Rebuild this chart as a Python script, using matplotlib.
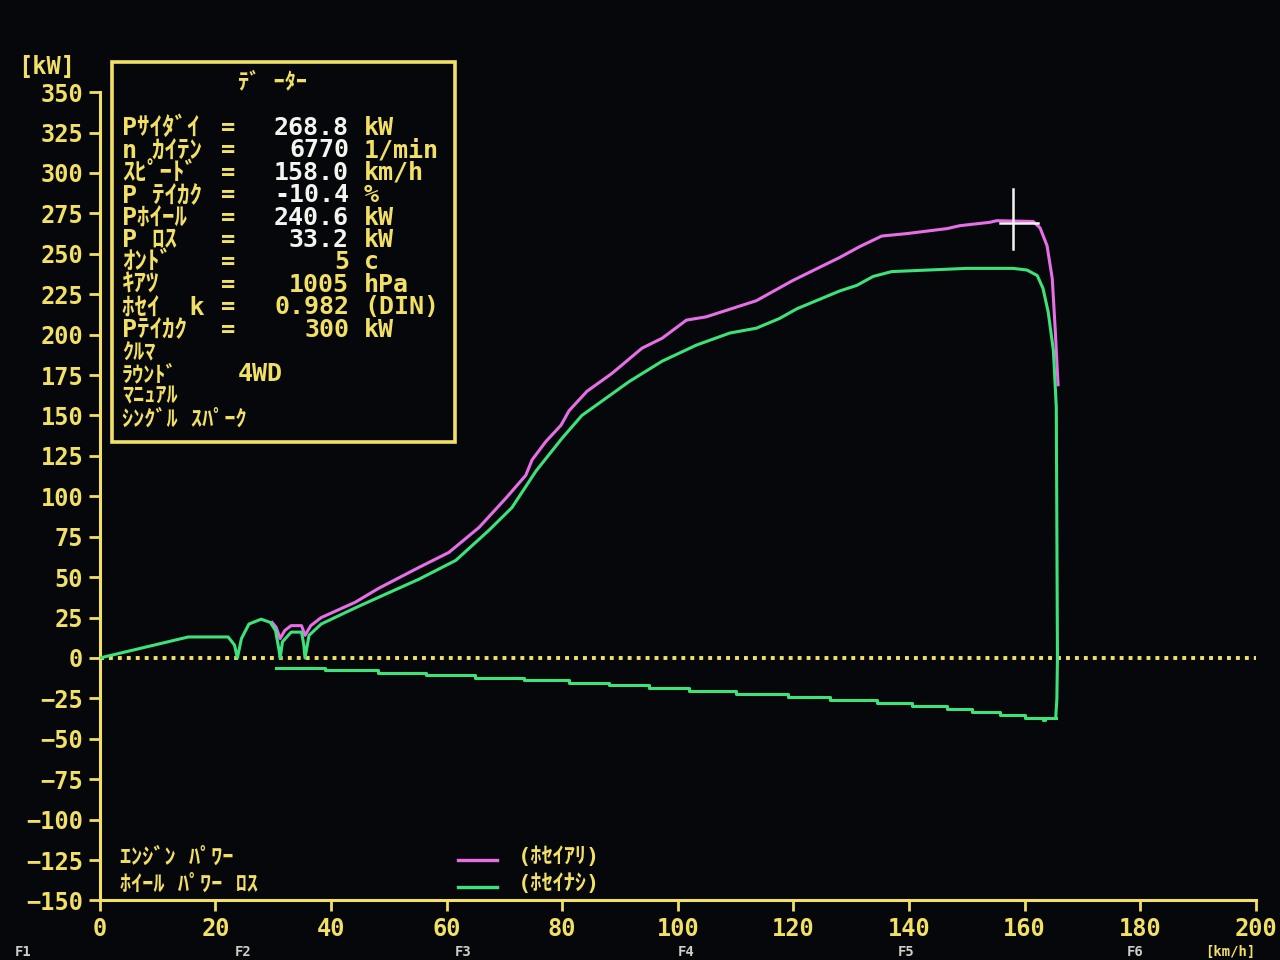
import matplotlib
matplotlib.use("Agg")
import matplotlib.pyplot as plt

# dyno screen readings (km/h, kW)
speed_eng = [29.8, 30.5, 31.2, 32.0, 33.1, 34.9, 35.5, 36.5, 38.3, 44.2, 48.2,
             55.2, 60.4, 65.6, 70.3, 73.7, 74.8, 77.2, 79.8, 81.2, 84.3, 88.6,
             93.8, 97.3, 101.5, 104.9, 113.6, 119.9, 128.0, 131.5, 135.3, 139.6,
             146.6, 148.8, 154.0, 155.2, 161.5, 162.7, 163.9, 164.8, 165.3, 165.8]
power_eng = [22, 19, 12, 17, 20, 20, 14, 20, 25, 34.5, 43,
             56, 65.3, 80.7, 99, 113, 122.6, 134, 144, 153, 165, 176,
             191.6, 197.8, 209, 211, 221, 233.5, 247.7, 254.5, 261, 262.5,
             265.6, 267.4, 269.5, 270.5, 270, 266, 255, 234.7, 204, 169]

speed_raw = [0, 15.3, 22.2, 23.3, 23.8, 24.5, 25.8, 27.9, 29.5, 30.4, 31.0, 31.2,
             31.6, 33.1, 34.9, 35.3, 35.5, 36.2, 38.3, 44.2, 49.4, 55.2, 61.6,
             67.3, 71.3, 75.5, 80.0, 83.4, 85.2, 91.6, 97.3, 103.2, 109.0, 113.6,
             117.6, 120.6, 128.0, 131.0, 133.8, 137.0, 150.0, 158.0, 160.4, 162.2,
             163.2, 164.1, 165.0, 165.5, 165.7, 165.6, 165.4]
power_raw = [0, 13, 13, 8, 0, 12, 21, 24, 22, 17, 5, 0,
             10, 16, 16, 8, 0, 14, 21, 31, 39.4, 48.7, 60.4,
             78.9, 93, 115.8, 136, 150, 154.6, 171, 183.6, 193.5, 201, 204,
             210, 216, 227, 230.5, 236, 239, 241, 241, 240, 236.6,
             228.6, 214, 190, 155, 0, -25, -37]

speed_loss = [30.5, 39.0, 48.2, 56.4, 65.0, 73.4, 81.2, 88.1, 95.1, 102.0, 110.1,
              119.0, 126.3, 134.4, 140.5, 146.6, 150.9, 155.8, 160.1, 163.2, 163.6, 165.4]
power_loss = [-6.0, -7.6, -9.5, -10.7, -12.2, -13.8, -15.5, -17.0, -18.8, -20.5, -22.2,
              -24.0, -25.9, -27.8, -29.6, -31.5, -33.4, -35.2, -37.1, -38.5, -37.1, -37.1]

yticks = list(range(-150, 351, 25))
xticks = list(range(0, 201, 20))
gear_labels = ["F1", "F2", "F3", "F4", "F5", "F6"]

readout_labels = ["Pｻｲﾀﾞｲ", "n ｶｲﾃﾝ", "ｽﾋﾟｰﾄﾞ", "P ﾃｲｶｸ", "Pﾎｲｰﾙ", "P ﾛｽ",
                  "ｵﾝﾄﾞ", "ｷｱﾂ", "ﾎｾｲ  k", "Pﾃｲｶｸ"]
readout_values = ["268.8", "6770", "158.0", "-10.4", "240.6", "33.2",
                  "5", "1005", "0.982", "300"]
readout_units = ["kW", "1/min", "km/h", "%", "kW", "kW", "c", "hPa", "(DIN)", "kW"]
extra_lines = ["ｸﾙﾏ", "ﾗｳﾝﾄﾞ", "ﾏﾆｭｱﾙ", "ｼﾝｸﾞﾙ ｽﾊﾟｰｸ"]
cursor_speed = 158.0
cursor_power = 268.8

BG = "#05070b"
YEL = "#f2e066"
MAG = "#e66fe6"
GRN = "#3de27a"
WHT = "#f4f4f0"
FAM = ["DejaVu Sans Mono", "Noto Sans CJK JP"]

plt.rcParams["font.family"] = FAM
plt.rcParams["font.weight"] = "bold"

fig = plt.figure(figsize=(12.8, 9.6), dpi=100, facecolor=BG)
ax = fig.add_axes([0.078, 0.062, 0.903, 0.842], facecolor=BG)


def fx(x, y):
    return x / 1280, 1 - y / 960


ax.axhline(0, color=YEL, lw=2.8, linestyle=(0, (1, 1.3)), zorder=1)
ax.plot(speed_eng, power_eng, color=MAG, lw=2.2, zorder=2)
ax.plot(speed_raw, power_raw, color=GRN, lw=2.2, zorder=3)
ax.plot(speed_loss, power_loss, color=GRN, lw=2.2, drawstyle="steps-post", zorder=3)

# cursor cross
ax.plot([cursor_speed, cursor_speed], [cursor_power - 16, cursor_power + 21],
        color=WHT, lw=1.8, zorder=4)
ax.plot([cursor_speed - 2.3, cursor_speed + 4.3], [cursor_power, cursor_power],
        color=WHT, lw=1.8, zorder=4)

ax.set_xlim(0, 200)
ax.set_ylim(-150, 350)
ax.set_xticks(xticks)
ax.set_yticks(yticks)
ax.tick_params(colors=YEL, labelcolor=YEL, length=8, width=2, labelsize=17, pad=4)
for lab in ax.get_xticklabels() + ax.get_yticklabels():
    lab.set_fontweight("bold")
for s in ["top", "right"]:
    ax.spines[s].set_visible(False)
for s in ["left", "bottom"]:
    ax.spines[s].set_color(YEL)
    ax.spines[s].set_linewidth(2.2)

# units and gear markers along the bottom edge
fig.text(*fx(18, 67), "[kW]", color=YEL, fontsize=17, va="center", ha="left")
fig.text(*fx(1205, 959), "[km/h]", color=YEL, fontsize=10, va="bottom", ha="left")
for lab, gx in zip(gear_labels, [15, 235, 455, 678, 898, 1127]):
    fig.text(*fx(gx, 959), lab, color="#cfcfc8", fontsize=10, va="bottom", ha="left")

# data box
box = plt.Rectangle(fx(112, 442), 343 / 1280, 380 / 960, transform=fig.transFigure,
                    fill=False, edgecolor=YEL, lw=2.6)
fig.add_artist(box)
fig.text(*fx(272, 82), "ﾃﾞ ｰﾀｰ", color=YEL, fontsize=16, ha="center", va="center")
row0, step = 128, 22.4
for i, (lab, val, unit) in enumerate(zip(readout_labels, readout_values, readout_units)):
    y = row0 + i * step
    vcol = WHT if i < 6 else YEL
    fig.text(*fx(122, y), lab, color=YEL, fontsize=18, ha="left", va="center")
    fig.text(*fx(228, y), "=", color=YEL, fontsize=17, ha="center", va="center")
    fig.text(*fx(349, y), val, color=vcol, fontsize=18, ha="right", va="center")
    fig.text(*fx(364, y), unit, color=YEL, fontsize=18, ha="left", va="center")
for j, lab in enumerate(extra_lines):
    y = row0 + (len(readout_labels) + j) * step
    fig.text(*fx(122, y), lab, color=YEL, fontsize=16, ha="left", va="center")
fig.text(*fx(238, row0 + 11 * step), "4WD", color=YEL, fontsize=18,
         ha="left", va="center")

# legend
fig.text(*fx(120, 858), "ｴﾝｼﾞﾝ ﾊﾟﾜｰ", color=YEL, fontsize=16, ha="left", va="center")
fig.text(*fx(120, 885), "ﾎｲｰﾙ ﾊﾟﾜｰ ﾛｽ", color=YEL, fontsize=16, ha="left", va="center")
for y, col, lab in [(860, MAG, "(ﾎｾｲｱﾘ)"), (887, GRN, "(ﾎｾｲﾅｼ)")]:
    fig.add_artist(plt.Line2D([458 / 1280, 497 / 1280], [1 - y / 960] * 2,
                              color=col, lw=2.4, transform=fig.transFigure))
    fig.text(*fx(518, y - 3), lab, color=YEL, fontsize=16, ha="left", va="center")

fig.savefig("out.png", dpi=100, facecolor=BG)
